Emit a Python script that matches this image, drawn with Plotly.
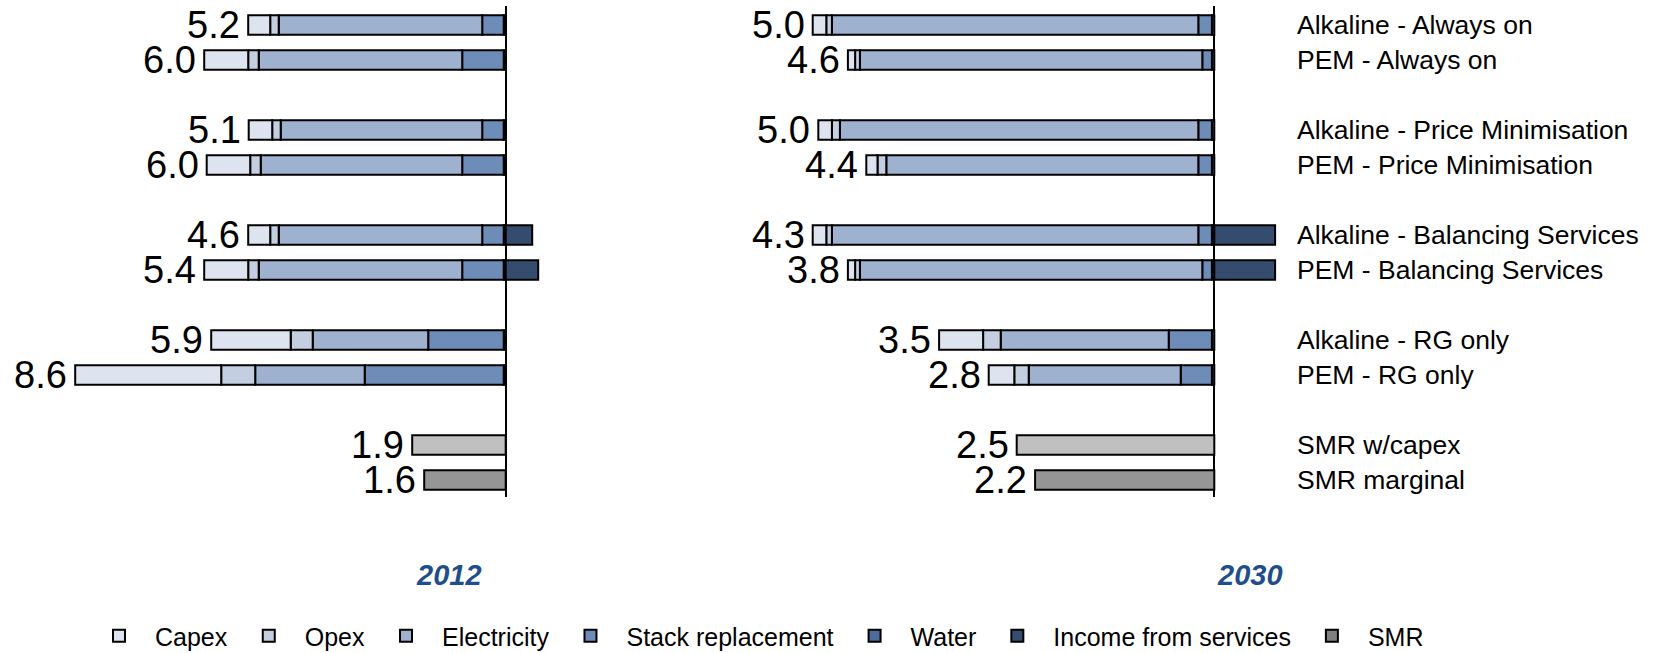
import plotly.graph_objects as go

# ---------------- data ----------------
categories = [
    "Alkaline - Always on", "PEM - Always on",
    "Alkaline - Price Minimisation", "PEM - Price Minimisation",
    "Alkaline - Balancing Services", "PEM - Balancing Services",
    "Alkaline - RG only", "PEM - RG only",
]
smr_categories = ["SMR w/capex", "SMR marginal"]
years = ["2012", "2030"]

capex_2012 = [0.44, 0.88, 0.47, 0.87, 0.44, 0.88, 1.59, 2.92]
opex_2012 = [0.17, 0.21, 0.17, 0.21, 0.17, 0.21, 0.44, 0.68]
elec_2012 = [4.07, 4.07, 4.03, 4.03, 4.07, 4.07, 2.31, 2.19]
stack_2012 = [0.43, 0.83, 0.43, 0.83, 0.43, 0.83, 1.51, 2.78]
water_2012 = [0.04, 0.04, 0.04, 0.04, 0.04, 0.04, 0.04, 0.04]
income_2012 = [None, None, None, None, 0.53, 0.65, None, None]
smr_2012 = [1.87, 1.63]
labels_2012 = ["5.2", "6.0", "5.1", "6.0", "4.6", "5.4", "5.9", "8.6"]
smr_labels_2012 = ["1.9", "1.6"]

capex_2030 = [0.17, 0.09, 0.17, 0.14, 0.17, 0.09, 0.55, 0.32]
opex_2030 = [0.07, 0.06, 0.10, 0.11, 0.07, 0.06, 0.22, 0.18]
elec_2030 = [4.58, 4.28, 4.48, 3.90, 4.58, 4.28, 2.10, 1.90]
stack_2030 = [0.17, 0.12, 0.17, 0.17, 0.17, 0.12, 0.54, 0.39]
water_2030 = [0.03, 0.03, 0.03, 0.03, 0.03, 0.03, 0.03, 0.03]
income_2030 = [None, None, None, None, 0.76, 0.76, None, None]
smr_2030 = [2.47, 2.24]
labels_2030 = ["5.0", "4.6", "5.0", "4.4", "4.3", "3.8", "3.5", "2.8"]
smr_labels_2030 = ["2.5", "2.2"]

component_names = ["Capex", "Opex", "Electricity", "Stack replacement", "Water"]
component_colors = ["#dde4ef", "#c3cee1", "#9eb1cf", "#6d8cb8", "#4d6b9b"]
income_name, income_color = "Income from services", "#364c6f"
smr_name, smr_legend_color = "SMR", "#808080"
smr_bar_colors = ["#c0c0c0", "#969696"]
year_color = "#1F4E8C"

panels = [
    dict(year=years[0], comps=[capex_2012, opex_2012, elec_2012, stack_2012, water_2012],
         income=income_2012, smr=smr_2012, labels=labels_2012, smr_labels=smr_labels_2012),
    dict(year=years[1], comps=[capex_2030, opex_2030, elec_2030, stack_2030, water_2030],
         income=income_2030, smr=smr_2030, labels=labels_2030, smr_labels=smr_labels_2030),
]

# ---------------- layout geometry (page pixels; body margin removed) ----------------
W, H = 1655, 653
FONT = "Liberation Sans, Arial, sans-serif"
row_pos = [3 * (i // 2) + (i % 2) for i in range(len(categories))]
smr_pos = [3 * (len(categories) // 2) + k for k in range(len(smr_categories))]

fig = go.Figure()
annotations = []

for p_idx, panel in enumerate(panels):
    xa = "x" if p_idx == 0 else "x2"
    ya = "y" if p_idx == 0 else "y2"
    # cost components: stacked outward from zero (last component nearest zero)
    for c_idx in reversed(range(len(component_names))):
        fig.add_trace(go.Bar(
            x=[-v for v in panel["comps"][c_idx]], y=row_pos, orientation="h",
            name=component_names[c_idx], legendgroup=component_names[c_idx],
            showlegend=(p_idx == 0), legendrank=c_idx + 1,
            marker=dict(color=component_colors[c_idx], line=dict(color="black", width=2)),
            xaxis=xa, yaxis=ya, hoverinfo="skip",
        ))
    fig.add_trace(go.Bar(
        x=panel["income"], y=row_pos, orientation="h",
        name=income_name, legendgroup=income_name, showlegend=(p_idx == 0),
        legendrank=6,
        marker=dict(color=income_color, line=dict(color="black", width=2)),
        xaxis=xa, yaxis=ya, hoverinfo="skip",
    ))
    fig.add_trace(go.Bar(
        x=[-v for v in panel["smr"]], y=smr_pos, orientation="h",
        name=smr_name, legendgroup=smr_name, showlegend=False,
        marker=dict(color=smr_bar_colors, line=dict(color="black", width=2)),
        xaxis=xa, yaxis=ya, hoverinfo="skip",
    ))
    # total labels at the left end of each bar
    gross = [sum(vals) for vals in zip(*panel["comps"])]
    for g, lab, yp in zip(gross, panel["labels"], row_pos):
        annotations.append(dict(x=-g, y=yp, xref=xa, yref=ya, text=lab, showarrow=False,
                                xanchor="right", yanchor="middle", xshift=-6,
                                font=dict(family=FONT, size=38, color="black")))
    for v, lab, yp in zip(panel["smr"], panel["smr_labels"], smr_pos):
        annotations.append(dict(x=-v, y=yp, xref=xa, yref=ya, text=lab, showarrow=False,
                                xanchor="right", yanchor="middle", xshift=-6,
                                font=dict(family=FONT, size=38, color="black")))

# legend entry for SMR
fig.add_trace(go.Bar(x=[None], y=[None], orientation="h", name=smr_name,
                     legendgroup=smr_name, legendrank=7,
                     marker=dict(color=smr_legend_color, line=dict(color="black", width=2)),
                     xaxis="x2", yaxis="y2"))

# year titles
for yr, xc in zip(years, [448.7, 1250]):
    annotations.append(dict(x=xc / W, y=1 - 575 / H, xref="paper", yref="paper", text=f"<b><i>{yr}</i></b>",
                            showarrow=False, xanchor="center", yanchor="middle",
                            font=dict(family=FONT, size=29, color=year_color)))

row0_px, row_pitch = 25.0, 35.0
top, bottom = 6, 497
ydom = [1 - bottom / H, 1 - top / H]
yrange = [(bottom - row0_px) / row_pitch, (top - row0_px) / row_pitch]

x1_dom_px = (0, 612)
x1_zero, x1_scale = 505.7, 50.0
x2_dom_px = (650, 1290)
x2_zero, x2_scale = 1214.3, 80.0

fig.update_layout(
    width=W, height=H, margin=dict(l=0, r=0, t=0, b=0, autoexpand=False),
    paper_bgcolor="white", plot_bgcolor="white",
    barmode="relative", bargap=0.44,
    font=dict(family=FONT, size=26, color="black"),
    xaxis=dict(domain=[x1_dom_px[0] / W, x1_dom_px[1] / W],
               range=[(x1_dom_px[0] - x1_zero) / x1_scale, (x1_dom_px[1] - x1_zero) / x1_scale],
               showgrid=False, showticklabels=False, ticks="", zeroline=True,
               zerolinecolor="black", zerolinewidth=2, anchor="y"),
    yaxis=dict(domain=ydom, range=yrange, showgrid=False, zeroline=False,
               showticklabels=False, ticks="", anchor="x"),
    xaxis2=dict(domain=[x2_dom_px[0] / W, x2_dom_px[1] / W],
                range=[(x2_dom_px[0] - x2_zero) / x2_scale, (x2_dom_px[1] - x2_zero) / x2_scale],
                showgrid=False, showticklabels=False, ticks="", zeroline=True,
                zerolinecolor="black", zerolinewidth=2, anchor="y2"),
    yaxis2=dict(domain=ydom, range=yrange, showgrid=False, zeroline=False,
                side="right", anchor="x2", ticks="",
                tickvals=row_pos + smr_pos, ticktext=categories + smr_categories,
                tickfont=dict(family=FONT, size=26.5, color="black"), ticklabelstandoff=6),
    legend=dict(orientation="h", x=756 / W, xanchor="center", y=1 - 636 / H, yanchor="middle",
                font=dict(family=FONT, size=25, color="black"), traceorder="normal",
                itemwidth=62, itemclick=False, itemdoubleclick=False),
    annotations=annotations,
    showlegend=True,
)

fig.write_html("out.html", config={"displayModeBar": False},
               post_script="document.body.style.margin='0px';")
